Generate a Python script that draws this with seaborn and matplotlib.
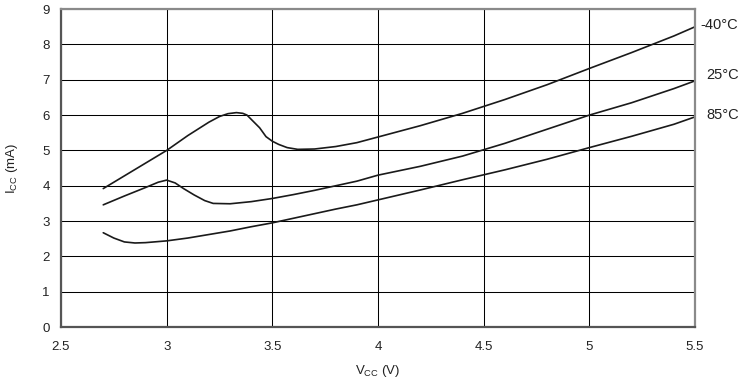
import pandas as pd
import matplotlib
matplotlib.use('Agg')
import matplotlib.pyplot as plt
import seaborn as sns

# supply current vs supply voltage
vcc_m40 = [2.7, 2.85, 3.0, 3.1, 3.2, 3.25, 3.29, 3.33, 3.36, 3.38, 3.41, 3.44, 3.47,
           3.5, 3.53, 3.57, 3.62, 3.7, 3.8, 3.9, 4.0, 4.2, 4.4, 4.6, 4.8, 5.0, 5.2, 5.4, 5.5]
icc_m40 = [3.92, 4.46, 5.0, 5.42, 5.8, 5.96, 6.04, 6.07, 6.05, 6.0, 5.82, 5.64, 5.39,
           5.26, 5.17, 5.08, 5.03, 5.04, 5.11, 5.22, 5.38, 5.7, 6.05, 6.44, 6.86, 7.32, 7.77, 8.24, 8.5]

vcc_25 = [2.7, 2.8, 2.9, 2.96, 3.0, 3.04, 3.08, 3.13, 3.18, 3.22, 3.3, 3.4, 3.5, 3.6,
          3.7, 3.8, 3.9, 4.0, 4.2, 4.4, 4.6, 4.8, 5.0, 5.2, 5.4, 5.5]
icc_25 = [3.46, 3.71, 3.95, 4.1, 4.16, 4.08, 3.92, 3.74, 3.58, 3.5, 3.49, 3.55, 3.64, 3.75,
          3.87, 4.0, 4.13, 4.3, 4.55, 4.84, 5.2, 5.6, 6.0, 6.35, 6.75, 6.97]

vcc_85 = [2.7, 2.75, 2.8, 2.85, 2.9, 3.0, 3.1, 3.2, 3.3, 3.4, 3.5, 3.6, 3.7, 3.8, 3.9,
          4.0, 4.2, 4.4, 4.6, 4.8, 5.0, 5.2, 5.4, 5.5]
icc_85 = [2.67, 2.52, 2.41, 2.38, 2.39, 2.44, 2.52, 2.62, 2.72, 2.84, 2.95, 3.08, 3.21,
          3.34, 3.46, 3.6, 3.88, 4.17, 4.45, 4.75, 5.08, 5.4, 5.74, 5.95]

temps = ['-40°C', '25°C', '85°C']
x_ticks = [2.5, 3, 3.5, 4, 4.5, 5, 5.5]
x_ticklabels = ['2.5', '3', '3.5', '4', '4.5', '5', '5.5']
y_ticks = list(range(0, 10))

df = pd.concat([
    pd.DataFrame({'Vcc': vcc_m40, 'Icc': icc_m40, 'temp': temps[0]}),
    pd.DataFrame({'Vcc': vcc_25, 'Icc': icc_25, 'temp': temps[1]}),
    pd.DataFrame({'Vcc': vcc_85, 'Icc': icc_85, 'temp': temps[2]}),
])

sns.set_style('white')
plt.rcParams['font.family'] = ['Liberation Sans', 'DejaVu Sans']
plt.rcParams['mathtext.default'] = 'regular'

fig, ax = plt.subplots(figsize=(7.41, 3.79), dpi=100)
fig.subplots_adjust(left=0.0823, right=0.938, top=0.976, bottom=0.137)

ax.grid(True, color='black', linewidth=0.75)
ax.set_axisbelow(True)

sns.lineplot(data=df, x='Vcc', y='Icc', hue='temp', units='temp', estimator=None,
             sort=False, palette=['#1a1a1a'] * 3, linewidth=1.2, legend=False, ax=ax)

ax.set_xlim(2.5, 5.5)
ax.set_ylim(0, 9)
ax.set_xticks(x_ticks)
ax.set_xticklabels(x_ticklabels)
ax.set_yticks(y_ticks)
ax.tick_params(axis='x', length=0, pad=10, labelsize=9.5, colors='#222222')
ax.tick_params(axis='y', length=0, pad=8, labelsize=9.5, colors='#222222')

for side in ['left', 'bottom']:
    ax.spines[side].set_color('#555555')
    ax.spines[side].set_linewidth(1.6)
for side in ['top', 'right']:
    ax.spines[side].set_color('#8a8a8a')
    ax.spines[side].set_linewidth(1.6)

ax.set_xlabel('V$_{CC}$ (V)', fontsize=9.5, color='#222222', labelpad=7)
ax.set_ylabel('I$_{CC}$ (mA)', fontsize=9.5, color='#222222', labelpad=16)

# temperature tags beside the right ends of the curves
ends = [icc_m40[-1], icc_25[-1], icc_85[-1]]
offsets = [0.05, 0.17, 0.06]
for t, yv, dy, dx in zip(temps, ends, offsets, [4, 8, 8]):
    ax.annotate(t, xy=(5.5, yv + dy), xytext=(dx, 0), textcoords='offset points',
                ha='left', va='center', fontsize=10.5, color='#222222', annotation_clip=False)

fig.savefig('out.png', dpi=100)
